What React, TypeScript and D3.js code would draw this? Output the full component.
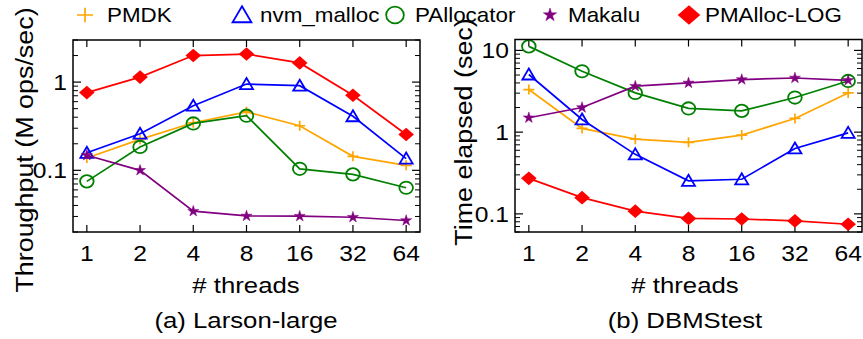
import React from "react";
import * as d3 from "d3";

const threads = ["1", "2", "4", "8", "16", "32", "64"];
const seriesNames = ["PMDK", "nvm_malloc", "PAllocator", "Makalu", "PMAlloc-LOG"];
const seriesColors = ["#ffa500", "#0000ff", "#008000", "#800080", "#ff0000"];

// (a) Larson-large, throughput (M ops/sec)
const pmdkL = [0.138, 0.224, 0.346, 0.46, 0.32, 0.144, 0.114];
const nvmL = [0.158, 0.26, 0.54, 0.95, 0.91, 0.41, 0.136];
const pallocL = [0.075, 0.184, 0.34, 0.416, 0.104, 0.09, 0.0635];
const makaluL = [0.148, 0.1, 0.0344, 0.0304, 0.0302, 0.0294, 0.027];
const pmallocL = [0.76, 1.14, 2.0, 2.08, 1.65, 0.71, 0.255];

// (b) DBMStest, time elapsed (sec)
const pmdkD = [3.32, 1.11, 0.82, 0.75, 0.92, 1.47, 3.02];
const nvmD = [5.07, 1.43, 0.535, 0.254, 0.265, 0.632, 0.98];
const pallocD = [11.2, 5.56, 3.02, 1.95, 1.82, 2.65, 4.23];
const makaluD = [1.5, 2.0, 3.65, 4.0, 4.4, 4.6, 4.3];
const pmallocD = [0.272, 0.158, 0.108, 0.088, 0.0866, 0.082, 0.0746];

const leftTicks = [0.1, 1];
const leftTickLabels = ["0.1", "1"];
const rightTicks = [0.1, 1, 10];
const rightTickLabels = ["0.1", "1", "10"];

const SX = 1.12;
const FONT = "'Liberation Sans', Arial, Helvetica, sans-serif";

function Txt({ x, y, size, anchor = "middle", rotate = 0, children, dy = "0" }: any) {
  const tr = `translate(${x},${y})${rotate ? ` rotate(${rotate})` : ""} scale(${SX},1)`;
  return (
    <text transform={tr} fontSize={size} fontFamily={FONT} textAnchor={anchor} dy={dy} fill="#000">
      {children}
    </text>
  );
}

function Marker({ kind, x, y, color, big = false }: any) {
  const s = big ? 1.45 : 1;
  if (kind === 0) {
    const a = 5.5 * s, b = 5 * s;
    return <path d={`M${x - a},${y}H${x + a}M${x},${y - b}V${y + b}`} stroke={color} strokeWidth={1.7} fill="none" />;
  }
  if (kind === 1) {
    const w = 6.5 * s, t = 6 * s, bt = 5 * s;
    return <path d={`M${x},${y - t}L${x + w},${y + bt}L${x - w},${y + bt}Z`} stroke={color} strokeWidth={1.8} fill="none" />;
  }
  if (kind === 2) {
    return <ellipse cx={x} cy={y} rx={6.8 * (big ? 1.3 : 1)} ry={6.2 * (big ? 1.35 : 1)} stroke={color} strokeWidth={1.8} fill="none" />;
  }
  if (kind === 3) {
    const p = d3.symbol(d3.symbolStar, big ? 55 : 38)();
    return <path d={p || ""} transform={`translate(${x},${y})`} fill={color} stroke={color} strokeWidth={0.5} />;
  }
  const hw = 7.8 * s, hh = 6.8 * s;
  return <path d={`M${x},${y - hh}L${x + hw},${y}L${x},${y + hh}L${x - hw},${y}Z`} fill={color} />;
}

function Panel({ x0, x1, y0, y1, domain, ticks, tickLabels, series, ytitle, ytitleX, ytitleY, caption, capX }: any) {
  const x = d3.scalePoint<string>().domain(threads).range([x0, x1]).padding(0.26);
  const y = d3.scaleLog().domain(domain).range([y1, y0]);
  const line = d3
    .line<number>()
    .x((_, i) => x(threads[i]) as number)
    .y((d) => y(d));
  const minor: number[] = [];
  const [lo, hi] = domain;
  for (let e = -3; e <= 2; e++) {
    for (let m = 2; m <= 9; m++) {
      const v = m * Math.pow(10, e);
      if (v >= lo * 0.999 && v <= hi * 1.001) minor.push(v);
    }
  }
  return (
    <g>
      {/* minor ticks */}
      {minor.map((v, i) => (
        <g key={"m" + i} stroke="#000" strokeWidth={1}>
          <line x1={x0} x2={x0 + 5} y1={y(v)} y2={y(v)} />
          <line x1={x1} x2={x1 - 5} y1={y(v)} y2={y(v)} />
        </g>
      ))}
      {ticks.map((v: number, i: number) => (
        <g key={"t" + i}>
          <line x1={x0} x2={x0 + 8} y1={y(v)} y2={y(v)} stroke="#000" strokeWidth={1.2} />
          <line x1={x1} x2={x1 - 8} y1={y(v)} y2={y(v)} stroke="#000" strokeWidth={1.2} />
          <Txt x={x0 - 6} y={y(v)} size={22} anchor="end" dy="0.36em">
            {tickLabels[i]}
          </Txt>
        </g>
      ))}
      {threads.map((t) => (
        <g key={"x" + t}>
          <line x1={x(t)} x2={x(t)} y1={y1} y2={y1 - 7} stroke="#000" strokeWidth={1.2} />
          <line x1={x(t)} x2={x(t)} y1={y0} y2={y0 + 7} stroke="#000" strokeWidth={1.2} />
          <Txt x={x(t) as number} y={261} size={22}>
            {t}
          </Txt>
        </g>
      ))}
      {series.map((vals: number[], si: number) => (
        <g key={"s" + si}>
          <path d={line(vals) || ""} fill="none" stroke={seriesColors[si]} strokeWidth={1.7} />
          {vals.map((v, i) => (
            <Marker key={i} kind={si} x={x(threads[i])} y={y(v)} color={seriesColors[si]} />
          ))}
        </g>
      ))}
      <rect x={x0} y={y0} width={x1 - x0} height={y1 - y0} fill="none" stroke="#000" strokeWidth={1.5} />
      <Txt x={capX} y={293} size={23}>
        # threads
      </Txt>
      <Txt x={capX} y={328} size={23}>
        {caption}
      </Txt>
      <Txt x={ytitleX} y={ytitleY} size={24} rotate={-90}>
        {ytitle}
      </Txt>
    </g>
  );
}

const legendMarkerX = [85, 242, 395, 550, 689];
const legendTextX = [107, 260, 415, 568, 705];

export default function App() {
  return (
    <svg width={863} height={339} style={{ position: "absolute", left: 0, top: 0, background: "#fff" }}>
      <rect x={0} y={0} width={863} height={339} fill="#fff" />
      <Panel
        x0={73}
        x1={420}
        y0={40}
        y1={232}
        domain={[0.02, 3]}
        ticks={leftTicks}
        tickLabels={leftTickLabels}
        series={[pmdkL, nvmL, pallocL, makaluL, pmallocL]}
        ytitle="Throughput (M ops/sec)"
        ytitleX={33}
        ytitleY={150}
        caption="(a) Larson-large"
        capX={246}
      />
      <Panel
        x0={515}
        x1={862}
        y0={39.5}
        y1={232}
        domain={[0.06, 13.6]}
        ticks={rightTicks}
        tickLabels={rightTickLabels}
        series={[pmdkD, nvmD, pallocD, makaluD, pmallocD]}
        ytitle="Time elapsed (sec)"
        ytitleX={472}
        ytitleY={132}
        caption="(b) DBMStest"
        capX={685}
      />
      {seriesNames.map((n, i) => (
        <g key={n}>
          <Marker kind={i} x={legendMarkerX[i]} y={15} color={seriesColors[i]} big />
          <Txt x={legendTextX[i]} y={22} size={20} anchor="start">
            {n}
          </Txt>
        </g>
      ))}
    </svg>
  );
}
